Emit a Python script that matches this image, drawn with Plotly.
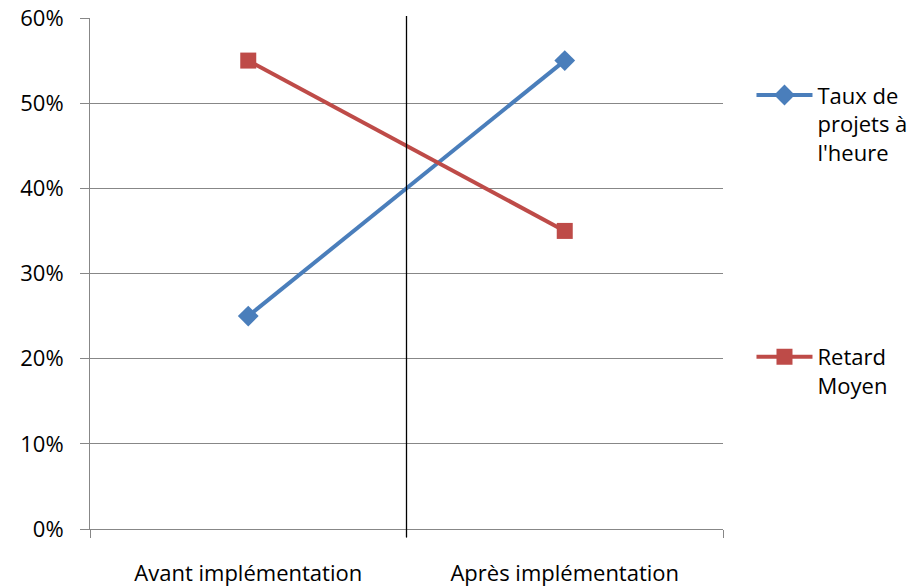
import plotly.graph_objects as go

categories = ["Avant implémentation", "Après implémentation"]
taux_heure = [0.25, 0.55]
retard_moyen = [0.55, 0.35]
y_ticks = [0, 0.1, 0.2, 0.3, 0.4, 0.5, 0.6]
y_tick_text = ["0%", "10%", "20%", "30%", "40%", "50%", "60%"]

BLUE = "#4A7EBB"
RED = "#BE4B48"
GRID = "#878787"
FONT = "Open Sans"
FS = 22

fig = go.Figure()
fig.add_trace(go.Scatter(
    x=categories, y=taux_heure, mode="lines+markers",
    name="Taux de<br>projets à<br>l'heure",
    line=dict(color=BLUE, width=4),
    marker=dict(symbol="diamond", size=16, color=BLUE),
    legend="legend",
))
fig.add_trace(go.Scatter(
    x=categories, y=retard_moyen, mode="lines+markers",
    name="Retard<br>Moyen",
    line=dict(color=RED, width=4),
    marker=dict(symbol="square", size=16, color=RED),
    legend="legend2",
))

# divider between the two periods
fig.add_shape(type="line", xref="x", yref="paper", x0=0.5, x1=0.5,
              y0=-0.016, y1=1.004, line=dict(color="black", width=1.3))

legend_style = dict(
    xref="paper", yref="paper", xanchor="left", yanchor="top",
    font=dict(family=FONT, size=FS, color="black"),
    bgcolor="rgba(0,0,0,0)", itemwidth=56, tracegroupgap=0, valign="top",
)

fig.update_layout(
    width=923, height=586,
    margin=dict(l=90, r=200, t=18, b=57, autoexpand=False),
    paper_bgcolor="white", plot_bgcolor="white",
    font=dict(family=FONT, size=FS, color="black"),
    showlegend=True,
    legend=dict(x=1.045, y=0.89, **legend_style),
    legend2=dict(x=1.045, y=0.378, **legend_style),
    xaxis=dict(
        type="category", range=[-0.5, 1.5], automargin=False,
        showgrid=False, showline=True, linecolor=GRID, linewidth=1,
        ticks="outside", tickson="boundaries", ticklen=8, tickcolor=GRID,
        ticklabelstandoff=25, tickfont=dict(family=FONT, size=FS),
    ),
    yaxis=dict(
        range=[0, 0.6], tickvals=y_ticks, ticktext=y_tick_text, automargin=False,
        showgrid=True, gridcolor=GRID, gridwidth=1,
        showline=True, linecolor=GRID, linewidth=1,
        ticks="outside", ticklen=9, tickcolor=GRID,
        ticklabelstandoff=12, tickfont=dict(family=FONT, size=FS),
        zeroline=False,
    ),
)

fig.write_html("out.html")
